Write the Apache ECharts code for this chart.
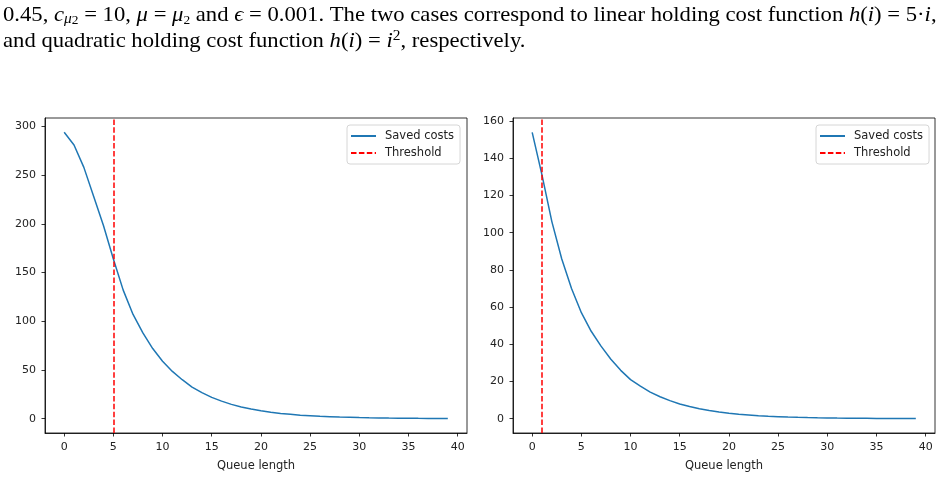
<!DOCTYPE html>
<html>
<head>
<meta charset="utf-8">
<script src="https://cdn.jsdelivr.net/npm/echarts@6/dist/echarts.min.js"></script>
<style>
  html, body { margin: 0; padding: 0; background: #fff; }
  #chart { width: 947px; height: 501px; }
</style>
</head>
<body>
<div id="chart"></div>
<script>
    // queue length 0..39
    var queueLen = [];
    for (var i = 0; i < 40; i++) { queueLen.push(i); }

    // saved costs, linear holding cost h(i) = 5*i
    var savedLinear = [294, 281, 258, 228, 198, 164, 132, 107, 88, 72,
                       59, 48.5, 40, 32.5, 26.7, 21.9, 18, 14.7, 12, 9.9,
                       8.1, 6.6, 5.4, 4.5, 3.6, 3.0, 2.4, 2.0, 1.6, 1.35,
                       1.1, 0.9, 0.74, 0.6, 0.5, 0.4, 0.33, 0.27, 0.22, 0.18];
    // saved costs, quadratic holding cost h(i) = i^2
    var savedQuad = [154, 131, 106, 86, 70, 57, 47, 39, 32, 26,
                     21, 17.5, 14.3, 11.8, 9.7, 7.9, 6.5, 5.3, 4.4, 3.6,
                     2.9, 2.4, 2.0, 1.6, 1.3, 1.1, 0.9, 0.73, 0.6, 0.49,
                     0.4, 0.33, 0.27, 0.22, 0.18, 0.15, 0.12, 0.1, 0.08, 0.07];

    var thresholdLinear = 5;
    var thresholdQuad = 1;

    var xTicks = [0, 5, 10, 15, 20, 25, 30, 35, 40];
    var yTicksLinear = [0, 50, 100, 150, 200, 250, 300];
    var yTicksQuad = [0, 20, 40, 60, 80, 100, 120, 140, 160];

    var textColor = '#222';
    var blue = '#1f77b4';
    var sans = 'DejaVu Sans';

    function pairs(ys) {
        return ys.map(function (y, k) { return [queueLen[k], y]; });
    }

    function xAxisOf(idx) {
        return {
            type: 'value', gridIndex: idx, min: -1.95, max: 40.95,
            name: 'Queue length', nameLocation: 'middle', nameGap: 27,
            nameTextStyle: { color: textColor, fontSize: 11.5, fontFamily: sans },
            axisLine: { show: true, onZero: false, lineStyle: { color: '#000', width: 0.8 } },
            axisTick: { show: true, length: 3.5, customValues: xTicks, lineStyle: { color: '#000', width: 0.8 } },
            axisLabel: { customValues: xTicks, margin: 9, color: textColor, fontSize: 11, fontFamily: sans },
            splitLine: { show: false }
        };
    }

    function yAxisOf(idx, min, max, ticks) {
        return {
            type: 'value', gridIndex: idx, min: min, max: max,
            axisLine: { show: true, onZero: false, lineStyle: { color: '#000', width: 0.8 } },
            axisTick: { show: true, length: 3.5, customValues: ticks, lineStyle: { color: '#000', width: 0.8 } },
            axisLabel: { customValues: ticks, margin: 9, color: textColor, fontSize: 11, fontFamily: sans },
            splitLine: { show: false }
        };
    }

    function legendOf(left) {
        return {
            left: left, top: 125, orient: 'vertical',
            data: ['Saved costs', 'Threshold'],
            itemWidth: 25, itemHeight: 10, itemGap: 5,
            padding: [5, 6, 5, 3],
            backgroundColor: '#fff', borderColor: '#d6d6d6', borderWidth: 1, borderRadius: 3,
            itemStyle: { opacity: 0 },
            textStyle: { color: textColor, fontSize: 11.5, fontFamily: sans, padding: [0, 0, 0, 4] },
            selectedMode: false
        };
    }

    function seriesOf(idx, values, thr) {
        return [{
            name: 'Saved costs', type: 'line', xAxisIndex: idx, yAxisIndex: idx,
            data: pairs(values), showSymbol: false, symbol: 'none',
            lineStyle: { color: blue, width: 1.5 }, itemStyle: { color: blue }
        }, {
            name: 'Threshold', type: 'line', xAxisIndex: idx, yAxisIndex: idx,
            data: [], symbol: 'none',
            lineStyle: { color: 'red', width: 1.5, type: [5.5, 2.4] }, itemStyle: { color: 'red' },
            markLine: {
                silent: true, symbol: 'none', label: { show: false },
                lineStyle: { color: 'red', width: 1.5, type: [5.5, 2.4] },
                data: [{ xAxis: thr }]
            }
        }];
    }

    // caption text above the figure (LaTeX paragraph)
    var serif = 'Liberation Serif';
    var rich = {
        n: { fontFamily: serif, fontSize: 22, color: '#000' },
        i: { fontFamily: serif, fontSize: 22, fontStyle: 'italic', color: '#000' },
        s: { fontFamily: serif, fontSize: 15, fontStyle: 'italic', color: '#000', verticalAlign: 'bottom' },
        t: { fontFamily: serif, fontSize: 13, color: '#000', verticalAlign: 'bottom' },
        p: { fontFamily: serif, fontSize: 15, color: '#000', verticalAlign: 'top' }
    };
    var line1 = '{n|0.45, }{i|c}{s|μ}{t|2}{n| = 10, }{i|μ}{n| = }{i|μ}{t|2}{n| and }{i|ϵ}{n| = 0.001. The two cases correspond to linear holding cost function }{i|h}{n|(}{i|i}{n|) = 5·}{i|i}{n|,}';
    var line2 = '{n|and quadratic holding cost function }{i|h}{n|(}{i|i}{n|) = }{i|i}{p|2}{n|, respectively.}';

    var chart = echarts.init(document.getElementById('chart'));
    chart.setOption({
        backgroundColor: '#fff',
        animation: false,
        grid: [
            { left: 45, top: 118, width: 422, height: 315, show: true, borderColor: '#000', borderWidth: 0.8 },
            { left: 513, top: 118, width: 422, height: 315, show: true, borderColor: '#000', borderWidth: 0.8 }
        ],
        xAxis: [xAxisOf(0), xAxisOf(1)],
        yAxis: [
            yAxisOf(0, -14.7, 308.7, yTicksLinear),
            yAxisOf(1, -7.7, 161.7, yTicksQuad)
        ],
        legend: [legendOf(347), legendOf(816)],
        series: seriesOf(0, savedLinear, thresholdLinear).concat(seriesOf(1, savedQuad, thresholdQuad)),
        graphic: [
            { type: 'text', left: 3, top: 3, scaleX: 1.03, style: { text: line1, rich: rich, lineHeight: 24 } },
            { type: 'text', left: 3, top: 29, scaleX: 1.03, style: { text: line2, rich: rich, lineHeight: 24 } }
        ]
    });
</script>
</body>
</html>
